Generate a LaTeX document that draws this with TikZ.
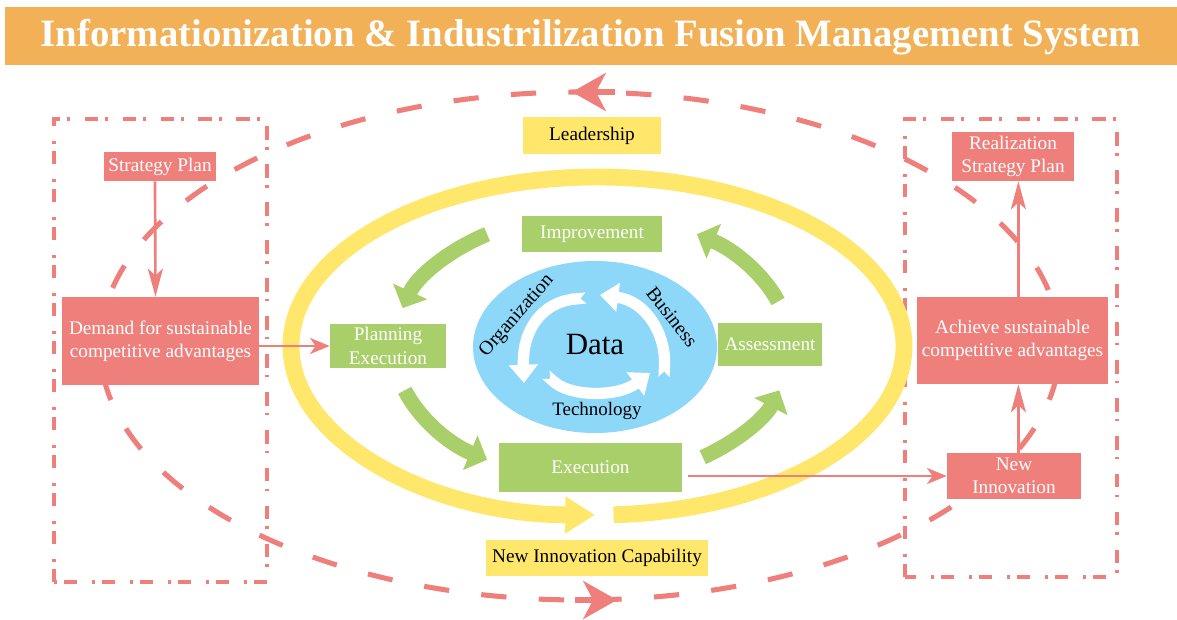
\documentclass[tikz,border=0pt]{standalone}
\usepackage{fontspec}
\usepackage{graphicx}
\setmainfont{Liberation Serif}
\usetikzlibrary{arrows.meta}
\definecolor{torange}{HTML}{F2B156}
\definecolor{salmon}{HTML}{EF7F7B}
\definecolor{yel}{HTML}{FFE76C}
\definecolor{grn}{HTML}{A9CF6B}
\definecolor{sky}{HTML}{8DD7F8}
\begin{document}
\begin{tikzpicture}[x=0.025cm,y=0.025cm,
  txt/.style={font=\fontsize{13.7}{16.5}\selectfont, inner sep=0pt, align=center},
  redbox/.style={txt, fill=salmon, text=white},
  grnbox/.style={txt, fill=grn, text=white},
  yelbox/.style={txt, fill=yel, text=black},
  conn/.style={salmon, line width=1.9pt},
  hhead/.style={-{Stealth[length=14pt,width=11.4pt,inset=4pt]}},
  vhead/.style={-{Stealth[length=20pt,width=10.7pt,inset=5pt]}},
  garrow/.style={grn, line width=10.7pt, -{Triangle[length=13pt,width=26pt]}},
  warrow/.style={white, line width=8pt, {Triangle Cap[reversed]}-{Triangle[length=13pt,width=20pt]}},
  ddbox/.style={salmon, line width=2.3pt, dash pattern=on 9.5pt off 5pt on 2pt off 10.5pt},
  bigdash/.style={salmon, line width=3.6pt},
  bighead/.style={-{Stealth[length=24pt,width=27pt,inset=7pt]}},
]
\useasboundingbox (0,0) rectangle (1177,619);

% title band
\fill[torange] (5,554) rectangle (1177,612);
\node[font=\bfseries, text=white, anchor=base, inner sep=0pt] (title) at (591,572)
  {\resizebox{27.5cm}{!}{Informationization \& Industrilization Fusion Management System}};

% dash-dot frames
\draw[ddbox] (54,37) rectangle (267,500);
\draw[ddbox] (905,42) rectangle (1117,500);

% big dashed ellipse
\draw[bigdash, dash pattern=on 18pt off 23pt] (580,273) ellipse [x radius=480, y radius=254];
\draw[bigdash, bighead] (615,527) -- (572,527);
\draw[bigdash, bighead] (575,19) -- (617,19);

% yellow ring
\draw[yel, line width=12pt, -{Triangle[length=21pt,width=25pt]}]
  ([shift={(-87:306.5 and 169)}]597.5,273) arc[start angle=-87, end angle=269.5, x radius=306.5, y radius=169];

% green cycle arrows
\draw[garrow] ([shift={(122:198 and 133)}]592,272) arc[start angle=122, end angle=163, x radius=198, y radius=133];
\draw[garrow] ([shift={(199:198 and 133)}]592,272) arc[start angle=199, end angle=238, x radius=198, y radius=133];
\draw[garrow] ([shift={(304:198 and 133)}]592,272) arc[start angle=304, end angle=341, x radius=198, y radius=133];
\draw[garrow] ([shift={(20:198 and 133)}]592,272) arc[start angle=20, end angle=58, x radius=198, y radius=133];

% data ellipse
\fill[sky] (595,272) ellipse [x radius=122, y radius=86];
\draw[warrow] (586,321) .. controls (543,317) and (522,290) .. (524,236);
\draw[warrow] (546,244) .. controls (572,222) and (618,222) .. (650,246);
\draw[warrow] (664,242) .. controls (666,285) and (646,318) .. (600,324);
\node[txt, font=\fontsize{22}{24}\selectfont] (data) at (595,274) {Data};
\node[txt, font=\fontsize{14}{16}\selectfont, rotate=49] (org) at (517,303) {Organization};
\node[txt, font=\fontsize{14}{16}\selectfont, rotate=-52] (bus) at (672,302) {Business};
\node[txt, font=\fontsize{13.5}{16}\selectfont] (tech) at (597,208) {Technology};

% boxes
\node[yelbox, minimum width=3.45cm, minimum height=0.925cm] (lead) at (592,483.5) {Leadership};
\node[yelbox, minimum width=5.55cm, minimum height=0.9cm] (nic) at (597,61) {New Innovation Capability};
\node[grnbox, minimum width=3.5cm, minimum height=0.9cm] (improv) at (592,385) {Improvement};
\node[grnbox, minimum width=2.9cm, minimum height=1.1cm] (plan) at (388,273) {Planning\\Execution};
\node[grnbox, minimum width=2.6cm, minimum height=1.075cm] (assess) at (770,274.5) {Assessment};
\node[grnbox, minimum width=4.575cm, minimum height=1.225cm] (exec) at (590.5,151.5) {Execution};
\node[redbox, minimum width=2.8cm, minimum height=0.725cm] (strat) at (160,452.5) {Strategy Plan};
\node[redbox, minimum width=4.925cm, minimum height=2.2cm] (demand) at (160.5,278) {Demand for sustainable\\competitive advantages};
\node[redbox, minimum width=3.05cm, minimum height=1.225cm] (real) at (1013,462.5) {Realization\\Strategy Plan};
\node[redbox, minimum width=4.775cm, minimum height=2.175cm] (achieve) at (1012.5,278.5) {Achieve sustainable\\competitive advantages};
\node[redbox, minimum width=3.35cm, minimum height=1.15cm] (newinn) at (1014,143) {New\\Innovation};

% connectors
\draw[conn, vhead] ([xshift=-0.125cm]strat.south) -- ([xshift=-0.125cm]demand.north);
\draw[conn, hhead] (plan.west -| demand.east) -- (plan.west);
\draw[conn, hhead] ([xshift=0.15cm]exec.east |- newinn.west) -- (newinn.west);
\draw[conn, vhead] ([xshift=0.11cm]newinn.north) -- ([xshift=0.11cm]newinn.north |- achieve.south);
\draw[conn, vhead] ([xshift=0.11cm]newinn.north |- achieve.north) -- ([xshift=0.11cm]newinn.north |- real.south);
\end{tikzpicture}
\end{document}
